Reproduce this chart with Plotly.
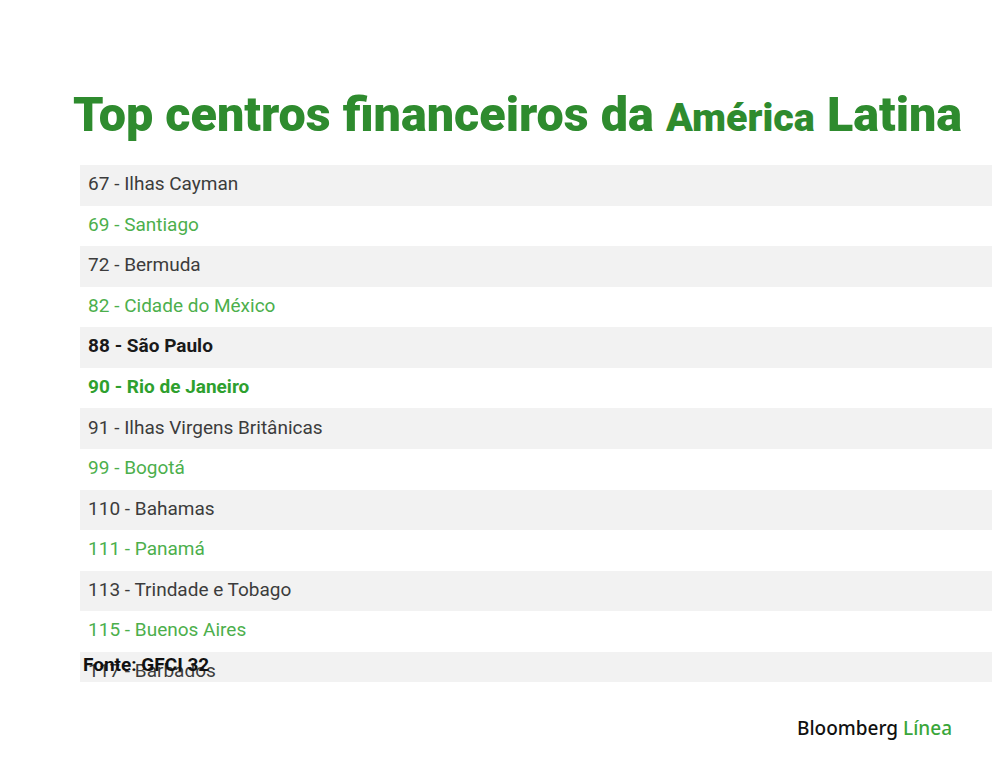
import plotly.graph_objects as go

ranks = [67, 69, 72, 82, 88, 90, 91, 99, 110, 111, 113, 115, 117]
cities = ["Ilhas Cayman", "Santiago", "Bermuda", "Cidade do México", "São Paulo",
          "Rio de Janeiro", "Ilhas Virgens Britânicas", "Bogotá", "Bahamas",
          "Panamá", "Trindade e Tobago", "Buenos Aires", "Barbados"]
bold_cities = ["São Paulo", "Rio de Janeiro"]

GRAY_BG = "#f2f2f2"
DARK_TXT = "#3c3c3c"
GREEN_TXT = "#4caf4c"
BOLD_DARK = "#1a1a1a"
BOLD_GREEN = "#2ea02e"
TITLE_GREEN = "#2e8b2e"

n = len(ranks)
ypos = list(range(n))
bg_colors = [GRAY_BG if i % 2 == 0 else "#ffffff" for i in range(n)]
labels, tcolors = [], []
for i, (r, c) in enumerate(zip(ranks, cities)):
    s = f"{r} - {c}"
    if c in bold_cities:
        s = f"<b>{s}</b>"
        tcolors.append(BOLD_DARK if i % 2 == 0 else BOLD_GREEN)
    else:
        tcolors.append(DARK_TXT if i % 2 == 0 else GREEN_TXT)
    labels.append(s)

fig = go.Figure()
fig.add_trace(go.Bar(x=[1] * n, y=ypos, orientation="h", marker=dict(color=bg_colors, line=dict(width=0)),
                     hoverinfo="skip", width=1.0))
fig.add_trace(go.Scatter(x=[0.0087] * n, y=ypos, mode="text", text=labels, textposition="middle right",
                         textfont=dict(family="Roboto", size=19, color=tcolors), hoverinfo="skip",
                         cliponaxis=True))

fig.update_layout(
    width=1000, height=755,
    margin=dict(l=72, r=0, t=157, b=81),
    paper_bgcolor="white", plot_bgcolor="white",
    showlegend=False, bargap=0,
    xaxis=dict(range=[0, 0.995], visible=False, fixedrange=True),
    yaxis=dict(range=[12.24, -0.5], visible=False, fixedrange=True),
    annotations=[
        dict(text='Top centros financeiros da <span style="font-size:39.5px">América</span> Latina',
             xref="paper", yref="paper", x=-0.0095, y=1.0, yshift=51, xanchor="left", yanchor="middle",
             showarrow=False, font=dict(family="Roboto", size=48.5, color=TITLE_GREEN, weight=900)),
        dict(text="<b>Fonte: GFCI 32</b>", xref="paper", yref="paper", x=0.001, y=0, yshift=18,
             xanchor="left", yanchor="middle", showarrow=False,
             font=dict(family="Roboto", size=19, color="#111111")),
        dict(text='Bloomberg <span style="color:#3aa63a">Línea</span>', xref="paper", yref="paper",
             x=1, xshift=-54, y=0, yshift=-46, xanchor="right", yanchor="middle", showarrow=False,
             font=dict(family="Noto Sans", size=19, color="#111111", weight=500)),
    ],
)

fig.write_html("out.html")
